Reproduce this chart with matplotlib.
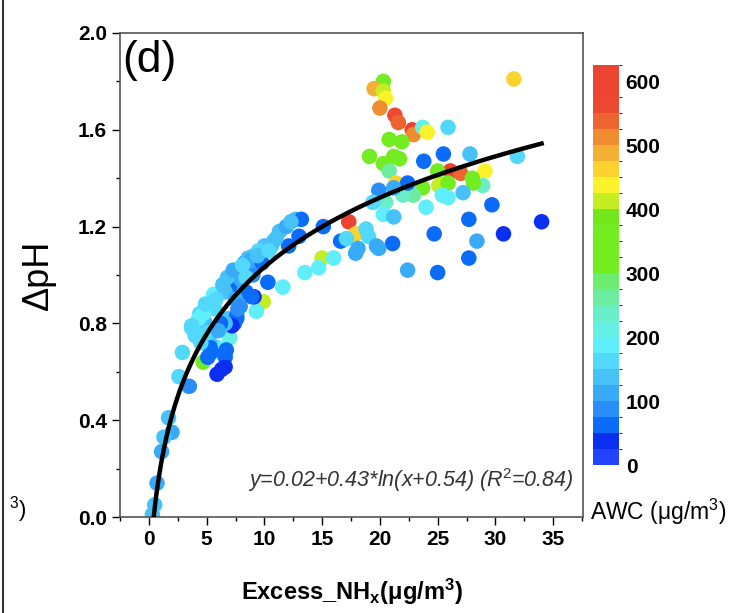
import numpy as np
import matplotlib
matplotlib.use("Agg")
import matplotlib.pyplot as plt
from matplotlib.colors import ListedColormap, BoundaryNorm
from matplotlib.lines import Line2D

plt.rcParams['font.family'] = ['Liberation Sans', 'DejaVu Sans']
plt.rcParams['mathtext.fontset'] = 'custom'
plt.rcParams['mathtext.rm'] = 'Liberation Sans'
plt.rcParams['mathtext.it'] = 'Liberation Sans:italic'
plt.rcParams['mathtext.bf'] = 'Liberation Sans:bold'

# Excess NHx (ug/m3), delta pH, AWC (ug/m3)
excess_nhx = [
    31.6, 20.3, 19.5, 20.3, 20.5, 20.0, 21.3, 21.6, 22.8, 22.9, 23.7, 24.1, 25.9,
    20.8, 21.9, 19.1, 20.3, 21.2, 21.7, 20.8, 23.8, 25.5, 27.8, 31.9, 26.1, 27.0,
    25.0, 29.1, 28.0, 28.9, 28.1, 25.1, 25.9, 23.7, 22.9, 22.0, 21.4, 22.4, 21.2,
    19.9, 20.5, 19.4, 25.4, 25.9, 27.2, 29.7, 24.0, 20.3, 21.2, 27.7, 34.0, 24.7,
    30.7, 28.4, 27.7, 22.4, 25.0,
    12.7, 13.2, 15.1, 17.3, 17.9, 18.8, 19.0, 16.6, 17.1, 18.1, 17.9, 19.7, 21.1,
    19.9, 15.0, 16.0, 14.7, 13.5, 13.0, 12.1, 10.3, 11.6,
    9.9, 9.3, 9.1, 8.4, 7.6, 7.4, 6.9, 7.0, 6.0, 6.7, 6.6, 6.3, 5.9, 6.6, 4.7,
    5.3, 5.4, 2.9, 2.6, 3.4, 3.5, 5.6, 3.7, 3.9, 4.4, 4.8, 5.4,
    1.7, 2.0, 1.3, 1.1, 0.7, 0.5, 0.3,
    10.6, 9.7, 9.1, 8.3, 8.6, 7.8, 7.4, 7.0, 6.6, 8.9, 5.7, 4.7, 4.3, 7.6, 7.2,
    6.6, 3.7, 4.0, 5.3, 6.6,
    10.8, 10.0, 9.5, 8.6, 8.3, 11.3, 11.9, 12.3, 9.0, 8.0, 7.5, 6.2, 5.0, 4.5,
    8.8, 9.8, 11.0, 7.9, 6.0, 5.1,
    6.8, 7.3, 8.1, 5.8, 6.4, 4.9, 9.4, 10.4, 7.7, 8.4,
]
delta_ph = [
    1.81, 1.80, 1.77, 1.76, 1.73, 1.69, 1.66, 1.63, 1.60, 1.58, 1.61, 1.59, 1.61,
    1.56, 1.55, 1.49, 1.46, 1.49, 1.48, 1.43, 1.47, 1.50, 1.50, 1.49, 1.43, 1.42,
    1.43, 1.43, 1.40, 1.37, 1.38, 1.37, 1.38, 1.36, 1.33, 1.33, 1.38, 1.38, 1.36,
    1.35, 1.30, 1.30, 1.33, 1.32, 1.34, 1.29, 1.28, 1.25, 1.24, 1.23, 1.22, 1.17,
    1.17, 1.14, 1.07, 1.02, 1.01,
    1.23, 1.23, 1.20, 1.22, 1.17, 1.19, 1.16, 1.14, 1.15, 1.11, 1.09, 1.12, 1.13,
    1.11, 1.07, 1.07, 1.03, 1.01, 1.16, 1.12, 0.97, 0.95,
    0.89, 0.85, 0.91, 0.93, 0.82, 0.80, 0.82, 0.74, 0.70, 0.69, 0.66, 0.61, 0.59,
    0.62, 0.64, 0.72, 0.68, 0.68, 0.58, 0.54, 0.54, 0.92, 0.78, 0.77, 0.84, 0.81,
    0.87,
    0.41, 0.35, 0.33, 0.27, 0.14, 0.05, 0.01,
    1.12, 1.10, 1.08, 1.05, 1.03, 1.01, 0.97, 0.95, 0.93, 0.91, 0.86, 0.84, 0.82,
    0.83, 0.79, 0.80, 0.79, 0.75, 0.70, 0.68,
    1.14, 1.12, 1.10, 1.07, 1.03, 1.18, 1.20, 1.22, 1.00, 0.98, 0.90, 0.80, 0.76,
    0.72, 1.06, 1.05, 1.15, 0.87, 0.77, 0.66,
    0.99, 1.02, 1.04, 0.90, 0.96, 0.88, 1.08, 1.10, 0.86, 0.99,
]
awc = [
    460, 330, 490, 410, 440, 500, 560, 530, 580, 520, 200, 440, 170,
    320, 340, 330, 340, 320, 350, 270, 60, 70, 140, 150, 590, 540,
    330, 440, 340, 230, 350, 410, 320, 330, 250, 240, 450, 70, 100,
    90, 240, 150, 180, 180, 140, 50, 180, 180, 140, 50, 40, 70,
    40, 110, 70, 100, 70,
    140, 50, 50, 580, 450, 160, 160, 50, 150, 100, 100, 100, 60,
    120, 400, 190, 180, 190, 60, 60, 50, 180,
    410, 180, 40, 50, 60, 50, 130, 220, 180, 60, 50, 30, 30,
    30, 330, 130, 70, 170, 170, 220, 80, 180, 150, 180, 150, 140,
    140,
    140, 120, 130, 100, 120, 130, 140,
    140, 140, 140, 60, 140, 150, 140, 70, 140, 50, 150, 180, 180,
    50, 40, 140, 170, 150, 70, 70,
    140, 140, 150, 130, 180, 130, 120, 140, 90, 110, 100, 60, 160,
    170, 120, 60, 130, 80, 100, 60,
    140, 120, 150, 170, 130, 160, 140, 150, 90, 170,
]

# fit shown on the chart: y = a + b*ln(x + c)
fit_a, fit_b, fit_c = 0.02, 0.43, 0.54

awc_levels = np.arange(0, 650, 25)
awc_colors = [
    '#2244ff', '#0a2ff0', '#0a6cf8', '#2a8ef8', '#38aaf8', '#46c2f8', '#52d8fa',
    '#5eeefc', '#66f0e4', '#6aeec8', '#6cec9e', '#6cec70', '#74ec22', '#74ec22',
    '#74ec22', '#72e81c', '#c4ee22', '#fcf22a', '#fcd22e', '#f4b032', '#f08c30',
    '#ec6430', '#ec4a30', '#ec4430', '#ec4430',
]
cmap = ListedColormap(awc_colors)
norm = BoundaryNorm(awc_levels, cmap.N)

fig = plt.figure(figsize=(7.41, 6.13), dpi=100)
ax = fig.add_axes([0.162, 0.1566, 0.625, 0.7896])

sc = ax.scatter(excess_nhx, delta_ph, c=awc, cmap=cmap, norm=norm, s=125,
                edgecolors='none', zorder=2)

xfit = np.linspace(0.42, 34, 300)
ax.plot(xfit, fit_a + fit_b * np.log(xfit + fit_c), color='black', lw=3.2, zorder=3)

ax.set_xlim(-2.35, 37.6)
ax.set_ylim(0, 2.0)
ax.set_xticks(np.arange(0, 36, 5))
ax.set_xticks(np.arange(-2.5, 37.6, 2.5), minor=True)
ax.set_yticks(np.arange(0, 2.01, 0.4))
ax.set_yticks(np.arange(0, 2.01, 0.2), minor=True)
ax.yaxis.set_major_formatter(matplotlib.ticker.FormatStrFormatter('%.1f'))
ax.tick_params(which='major', length=6, width=1, labelsize=15, direction='out')
ax.tick_params(which='minor', length=3, width=1, direction='out')
for lab in ax.get_xticklabels() + ax.get_yticklabels():
    lab.set_fontweight('bold')
for sp in ax.spines.values():
    sp.set_color('#555555')
    sp.set_linewidth(1.2)

ax.set_xlabel(r'Excess_NH$_\mathbf{x}$(μg/m$^\mathbf{3}$)', fontsize=17,
              fontweight='bold', labelpad=20)
ax.set_ylabel('ΔpH', fontsize=26, labelpad=16)
ax.text(0.005, 0.985, '(d)', transform=ax.transAxes, fontsize=32, va='top', ha='left')
ax.text(0.978, 0.077, r'y=0.02+0.43*ln(x+0.54) (R$^2$=0.84)', transform=ax.transAxes,
        fontsize=15.5, style='italic', ha='right', va='center', color='#333333')

cax = fig.add_axes([0.800, 0.2414, 0.035, 0.6525])
cb = fig.colorbar(sc, cax=cax, ticks=np.arange(0, 601, 100))
cb.outline.set_visible(False)
cb.ax.tick_params(length=0, labelsize=15, pad=5)
for lab in cb.ax.get_yticklabels():
    lab.set_fontweight('bold')
fig.text(0.796, 0.165, r'AWC (μg/m$^3$)', fontsize=16.5, ha='left', va='center')

# bits of the neighbouring panel at the left edge of the screenshot
fig.add_artist(Line2D([0.004, 0.004], [0.0, 1.0], color='#333333', lw=1.5))
fig.text(0.012, 0.168, r'$^3$)', fontsize=16, ha='left', va='center')

fig.savefig('out.png', dpi=100)
